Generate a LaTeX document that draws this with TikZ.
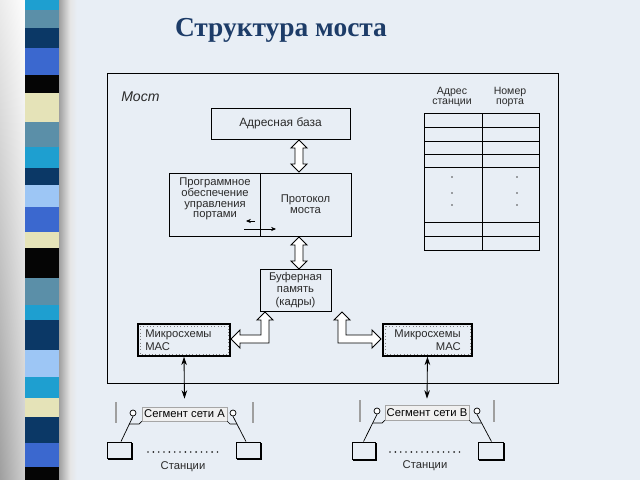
\documentclass[tikz,border=0pt]{standalone}
\usepackage{fontspec}
\setmainfont{Liberation Serif}
\setsansfont{Liberation Sans}
\usetikzlibrary{arrows.meta,calc,shadings}
\definecolor{bgc}{HTML}{E8EEF5}
\definecolor{titc}{HTML}{1D3C68}
\definecolor{txt}{HTML}{2A2A2A}
\definecolor{cy}{HTML}{1E9FD0}
\definecolor{sb}{HTML}{5B8FA8}
\definecolor{nv}{HTML}{0B3866}
\definecolor{rb}{HTML}{3B68CF}
\definecolor{bk}{HTML}{050505}
\definecolor{py}{HTML}{E5E3B8}
\definecolor{lb}{HTML}{9DC6F5}
\definecolor{segf}{HTML}{F0F0F0}
\begin{document}
\begin{tikzpicture}[x=0.025cm,y=-0.025cm,
  wh/.style 2 args={minimum width={#1*0.025cm}, minimum height={#2*0.025cm}},
  boxf/.style={draw=black, line width=0.6pt, inner sep=0pt, align=center, text=txt,
     font=\sffamily\fontsize{8}{7.6}\selectfont},
  lbl/.style={inner sep=0pt, text=txt, font=\sffamily\fontsize{8}{7.6}\selectfont},
  macbox/.style={draw=black, line width=1pt, inner sep=0pt},
  hollow/.style={draw=black, line width=0.6pt, fill=white, line join=miter},
  segbox/.style={draw=gray!70, line width=0.5pt, fill=segf, inner sep=0pt, text=black,
     font=\sffamily\fontsize{8}{9}\selectfont},
  station/.style={draw=black, line width=0.6pt, fill=bgc, inner sep=0pt},
  bar/.style={draw=gray!75, line width=1pt},
  thinl/.style={draw=black, line width=0.5pt},
  dotrow/.style={line width=1.3pt, dash pattern=on 0pt off 3.8pt, line cap=round, draw=black!85},
  lnarrow/.style={line width=0.6pt, {Stealth[length=6pt,width=4pt]}-{Stealth[length=6pt,width=4pt]}},
  smallarr/.style={line width=0.5pt, -{Stealth[length=3.5pt,width=3pt]}}
]
\useasboundingbox (0,0) rectangle (640,480);
\fill[bgc] (0,0) rectangle (640,480);
% left decoration
\shade[upper left=gray!15, upper right=white, lower left=gray!75, lower right=gray!35] (0,0) rectangle (27,480);
\shade[left color=gray!80, right color=gray!20] (58,0) rectangle (70,480);
\shade[left color=gray!20, right color=bgc] (70,0) rectangle (77,480);
\foreach \a/\b/\c in {0/10/cy,10/28/sb,28/48/nv,48/75/rb,75/93/bk,93/122/py,122/147/sb,147/168/cy,
  168/185/nv,185/207/lb,207/232/rb,232/248/py,248/278/bk,278/305/sb,305/320/cy,320/350/nv,
  350/377/lb,377/398/cy,398/417/py,417/443/nv,443/467/rb,467/480/bk}
  \fill[\c] (25,\a) rectangle (59,\b);

% title
\node[font=\bfseries\fontsize{19.5}{22}\selectfont, text=titc] (title) at (281,30) {Структура моста};

% frame
\node[draw=black, line width=0.6pt, wh={451}{310}, inner sep=0pt] (frame) at (332.5,228) {};
\node[anchor=west, inner sep=0pt, text=txt, font=\sffamily\itshape\fontsize{10}{12}\selectfont] (most) at (121,97) {Мост};

% boxes
\node[boxf, wh={139}{31}, font=\sffamily\fontsize{8.5}{10}\selectfont] (adr) at (280.5,123.5) {Адресная база};
\node[boxf, wh={91}{63}] (prog) at (214.5,204.5) {};
\node[lbl, align=center] (progt) at (215,199) {Программное\\обеспечение\\управления\\портами};
\node[boxf, wh={91}{63}] (proto) at (305.5,204.5) {Протокол\\моста};
\node[boxf, wh={71}{42}, font=\sffamily\fontsize{8}{8.9}\selectfont] (buf) at (295.5,290) {Буферная\\память\\(кадры)};

\node[macbox, wh={92}{32}] (macA) at (184,340) {};
\draw[dotted, gray] ($(macA.north west)+(2.5,2.5)$) rectangle ($(macA.south east)+(-2.5,-2.5)$);
\node[lbl, align=left, anchor=west, font=\sffamily\fontsize{8}{9.2}\selectfont] (macAt) at (145,340) {Микросхемы\\МАС};
\node[macbox, wh={89}{32}] (macB) at (427.5,340) {};
\draw[dotted, gray] ($(macB.north west)+(2.5,2.5)$) rectangle ($(macB.south east)+(-2.5,-2.5)$);
\node[lbl, align=right, anchor=east, font=\sffamily\fontsize{8}{9.2}\selectfont] (macBt) at (461,340) {Микросхемы\\МАС};

% small arrows
\coordinate (sa1) at (255,221); \coordinate (sa2) at (246,221);
\coordinate (sb1) at (244,229); \coordinate (sb2) at (276,229);
\draw[smallarr] (sa1) -- (sa2);
\draw[smallarr] (sb1) -- (sb2);

% hollow double arrows
\draw[hollow] (295,148) -- (291,148) -- (299,140) -- (307,148) -- (303,148) -- (303,164) -- (307,164)
   -- (299,172) -- (291,164) -- (295,164) -- cycle;
\draw[hollow] (295,245) -- (291,245) -- (299,237) -- (307,245) -- (303,245) -- (303,261) -- (307,261)
   -- (299,269) -- (291,261) -- (295,261) -- cycle;
\draw[hollow] (265,312) -- (273,320) -- (269,320) -- (269,343) -- (240,343) -- (240,348) -- (231,339)
   -- (240,330) -- (240,335) -- (261,335) -- (261,320) -- (257,320) -- cycle;
\draw[hollow] (342,312) -- (350,320) -- (346,320) -- (346,335) -- (372,335) -- (372,330) -- (381,339)
   -- (372,348) -- (372,343) -- (338,343) -- (338,320) -- (334,320) -- cycle;

% table
\node[draw=black, line width=0.6pt, wh={115}{137}, inner sep=0pt] (tbl) at (481.5,181.5) {};
\draw[thinl] (482,113) -- (482,250);
\foreach \yy in {127,141,154,167,222,236} \draw[thinl] (424,\yy) -- (539,\yy);
\node[lbl, align=center, font=\sffamily\fontsize{7.5}{7.4}\selectfont] (h1) at (452,97) {Адрес\\станции};
\node[lbl, align=center, font=\sffamily\fontsize{7.5}{7.4}\selectfont] (h2) at (510,97) {Номер\\порта};
\foreach \yy in {177,193,205} {\fill[black!70] (452,\yy) circle (0.8); \fill[black!70] (517,\yy) circle (0.8);}

% segment A
\node[segbox, wh={85}{14}] (segA) at (184.5,414) {Сегмент сети А};
\draw[lnarrow] (macA.south) -- ($(segA.north)+(0,-8)$);
\draw[bar] (116,402) -- (116,423);
\draw[bar] (253,402) -- (253,423);
\node[draw=black, line width=0.5pt, fill=white, circle, inner sep=0pt, minimum size={6*0.025cm}] (cA1) at (133,413) {};
\node[draw=black, line width=0.5pt, fill=white, circle, inner sep=0pt, minimum size={6*0.025cm}] (cA2) at (233,413) {};
\node[station, wh={24}{16}] (sA1) at (119,450) {};
\node[station, wh={24}{16}] (sA2) at (248,450) {};
\draw[black, line width=1pt] ($(sA1.north east)+(1,1.5)$) -- ($(sA1.south east)+(1,1)$) -- ($(sA1.south west)+(1.5,1)$);
\draw[black, line width=1pt] ($(sA2.north east)+(1,1.5)$) -- ($(sA2.south east)+(1,1)$) -- ($(sA2.south west)+(1.5,1)$);
\draw[thinl] (cA1.south) -- ($(sA1.north)+(2,0)$);
\draw[thinl] (cA2.south) -- ($(sA2.north)+(-2,0)$);
\draw[thinl] (129,424) -- (139,424) -- (segA.south west);
\draw[thinl] (segA.south east) -- (230,424) -- (237,424);
\coordinate (dA1) at (148,452); \coordinate (dA2) at (219,452);
\draw[dotrow] (dA1) -- (dA2);
\node[lbl] (stA) at (183,467) {Станции};

% segment B
\node[segbox, wh={84}{15}] (segB) at (427,412.5) {Сегмент сети В};
\draw[lnarrow] (macB.south) -- ($(segB.north)+(0,-6)$);
\draw[bar] (360,400) -- (360,422);
\draw[bar] (494,400) -- (494,422);
\node[draw=black, line width=0.5pt, fill=white, circle, inner sep=0pt, minimum size={6*0.025cm}] (cB1) at (377,411) {};
\node[draw=black, line width=0.5pt, fill=white, circle, inner sep=0pt, minimum size={6*0.025cm}] (cB2) at (477,411) {};
\node[station, wh={23}{17}] (sB1) at (363.5,450.5) {};
\node[station, wh={25}{17}] (sB2) at (490.5,450.5) {};
\draw[black, line width=1pt] ($(sB1.north east)+(1,1.5)$) -- ($(sB1.south east)+(1,1)$) -- ($(sB1.south west)+(1.5,1)$);
\draw[black, line width=1pt] ($(sB2.north east)+(1,1.5)$) -- ($(sB2.south east)+(1,1)$) -- ($(sB2.south west)+(1.5,1)$);
\draw[thinl] (cB1.south) -- (sB1.north);
\draw[thinl] (cB2.south) -- ($(sB2.north)+(1,0)$);
\draw[thinl] (373,423) -- (382,423) -- (segB.south west);
\draw[thinl] (segB.south east) -- (472,423) -- (481,423);
\coordinate (dB1) at (390,452); \coordinate (dB2) at (461,452);
\draw[dotrow] (dB1) -- (dB2);
\node[lbl] (stB) at (425,466) {Станции};
\end{tikzpicture}
\end{document}
